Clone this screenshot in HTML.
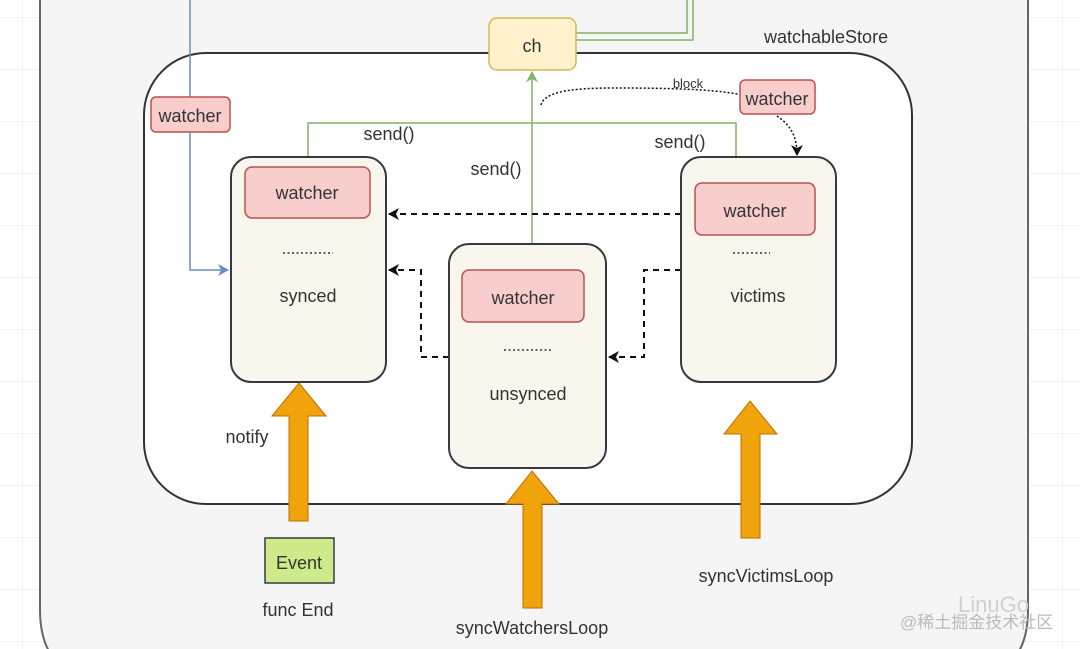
<!DOCTYPE html>
<html><head><meta charset="utf-8"><style>
html,body{margin:0;padding:0;background:#fff;width:1080px;height:649px;overflow:hidden}
svg{display:block}
text{font-family:"Liberation Sans","Noto Sans CJK SC",sans-serif;fill:#333}
</style></head><body>
<svg width="1080" height="649" viewBox="0 0 1080 649" xmlns="http://www.w3.org/2000/svg">
<defs>
<pattern id="g" width="52" height="52" patternUnits="userSpaceOnUse" x="-30" y="-35">
<path d="M0 0H52M0 0V52" stroke="#e6e6e6" stroke-width="1" fill="none"/>
</pattern>
<marker id="ab" markerWidth="12" markerHeight="12" refX="10" refY="6" orient="auto" markerUnits="userSpaceOnUse"><path d="M0,0 L11,6 L0,12 L3,6 Z" fill="#111"/></marker>
<marker id="ag" markerWidth="12" markerHeight="12" refX="10" refY="6" orient="auto" markerUnits="userSpaceOnUse"><path d="M0,0 L11,6 L0,12 L3,6 Z" fill="#82b366"/></marker>
<marker id="abl" markerWidth="12" markerHeight="12" refX="10" refY="6" orient="auto" markerUnits="userSpaceOnUse"><path d="M0,0 L11,6 L0,12 L3,6 Z" fill="#6c8ebf"/></marker>
<clipPath id="c"><rect width="1080" height="649"/></clipPath>
</defs>
<rect width="1080" height="649" fill="url(#g)"/>
<g clip-path="url(#c)">
<path d="M40 -2V610Q40 680 110 680H958Q1028 680 1028 610V-2Z" fill="#f5f5f5" stroke="#666" stroke-width="2"/>
</g>
<path d="M576 33H687V0M576 40H693V0" fill="none" stroke="#82b366" stroke-width="1.5"/>
<rect x="144" y="53" width="768" height="451" rx="62" fill="#fff" stroke="#333" stroke-width="2"/>
<text x="764" y="43" font-size="18">watchableStore</text>
<rect x="489" y="18" width="87" height="52" rx="8" fill="#fff2cc" stroke="#d6b656" stroke-width="1.5"/>
<text x="532" y="52" font-size="18" text-anchor="middle">ch</text>
<path d="M190 0V270H228" fill="none" stroke="#6c8ebf" stroke-width="1.5" marker-end="url(#abl)"/>
<rect x="151" y="97" width="79" height="35" rx="5" fill="#f8cecc" stroke="#b85450" stroke-width="1.5"/>
<text x="190" y="122" font-size="18" text-anchor="middle">watcher</text>
<path d="M308 157V123H736V157" fill="none" stroke="#82b366" stroke-width="1.5"/>
<path d="M532 244V72" fill="none" stroke="#82b366" stroke-width="1.5" marker-end="url(#ag)"/>
<text x="389" y="140" font-size="18" text-anchor="middle">send()</text>
<text x="496" y="175" font-size="18" text-anchor="middle">send()</text>
<text x="680" y="148" font-size="18" text-anchor="middle">send()</text>
<g fill="none" stroke="#111" stroke-width="2" stroke-dasharray="6,5">
<path d="M681 214H389" marker-end="url(#ab)"/>
<path d="M449 357H421V270H389" marker-end="url(#ab)"/>
<path d="M681 270H644V357H609" marker-end="url(#ab)"/>
</g>
<path d="M541 105C545 88 590 88 620 88C680 88 720 90 742 95" fill="none" stroke="#111" stroke-width="1.5" stroke-dasharray="2,2"/>
<text x="688" y="88" font-size="13" text-anchor="middle">block</text>
<path d="M777 116C790 125 797 135 797 155" fill="none" stroke="#111" stroke-width="1.5" stroke-dasharray="2,2" marker-end="url(#ab)"/>
<rect x="740" y="80" width="75" height="34" rx="5" fill="#f8cecc" stroke="#b85450" stroke-width="1.5"/>
<text x="777" y="105" font-size="18" text-anchor="middle">watcher</text>
<g stroke="#36393d" stroke-width="2" fill="#f9f7ed">
<rect x="231" y="157" width="155" height="225" rx="20"/>
<rect x="449" y="244" width="157" height="224" rx="20"/>
<rect x="681" y="157" width="155" height="225" rx="20"/>
</g>
<g fill="#f8cecc" stroke="#b85450" stroke-width="1.5">
<rect x="245" y="167" width="125" height="51" rx="7"/>
<rect x="462" y="270" width="122" height="52" rx="7"/>
<rect x="695" y="183" width="120" height="52" rx="7"/>
</g>
<g font-size="18" text-anchor="middle">
<text x="307" y="199">watcher</text>
<text x="523" y="304">watcher</text>
<text x="755" y="217">watcher</text>
<text x="308" y="302">synced</text>
<text x="528" y="400">unsynced</text>
<text x="758" y="302">victims</text>
</g>
<g stroke="#333" stroke-width="1.5" stroke-dasharray="2,2.5">
<path d="M283 253H333"/><path d="M504 350H553"/><path d="M733 253H770"/>
</g>
<g fill="#f0a30a" stroke="#bd7000" stroke-width="1">
<path d="M299 383L326 416H308V521H289V416H272Z"/>
<path d="M532 471L559 504H542V608H523V504H506Z"/>
<path d="M750 401L777 434H760V538H741V434H724Z"/>
</g>
<text x="247" y="443" font-size="18" text-anchor="middle">notify</text>
<rect x="265" y="538" width="69" height="45" fill="#cdeb8b" stroke="#36393d" stroke-width="1.5"/>
<text x="299" y="569" font-size="18" text-anchor="middle">Event</text>
<text x="298" y="616" font-size="18" text-anchor="middle">func End</text>
<text x="532" y="634" font-size="18" text-anchor="middle">syncWatchersLoop</text>
<text x="766" y="582" font-size="18" text-anchor="middle">syncVictimsLoop</text>
<text x="958" y="612" font-size="22" style="fill:#d0d0d0">LinuGo</text>
<text x="900" y="628" font-size="17" style="fill:#bbb">@稀土掘金技术社区</text>
</svg>
</body></html>
